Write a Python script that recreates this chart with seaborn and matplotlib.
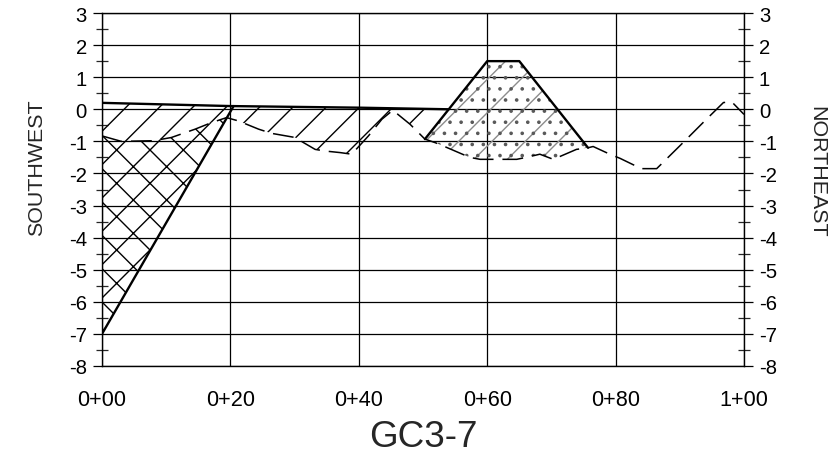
# CROSS SECTION GC3-7
# ----------------------------------------------------------------------------------------------------------------

import matplotlib
matplotlib.use('Agg')
import matplotlib.pyplot as plt
import seaborn as sns
import numpy as np


# DATA ------------------

station_ticks = [0, 20, 40, 60, 80, 100]
station_labels = ['0+00', '0+20', '0+40', '0+60', '0+80', '1+00']
elev_ticks = list(range(-8, 4))

# design ground line (thick, solid)
ground_x = [0, 20, 40, 54]
ground_y = [0.2, 0.1, 0.05, 0.0]

# excavation cut edge (thick, solid)
cut_x = [0, 20.5]
cut_y = [-7, 0.1]

# berm outline (thick, solid)
berm_x = [50.3, 60, 65, 75.7]
berm_y = [-0.93, 1.5, 1.5, -1.2]

# existing profile (dashed)
profile_x = [0, 3, 8, 10.8, 14.5, 17, 19.4, 21.2, 24.4, 26.4, 30.1, 31.4, 33.2, 34.7, 37.1, 38.9,
             41.5, 43.6, 45.3, 48, 50.3, 51.9, 53.7, 57.3, 58.9, 62.3, 64.6, 66.5, 68.2, 70.3,
             73.9, 75.7, 76.5, 79.1, 80.7, 84, 86.4, 90, 93.9, 96.8, 98.1, 100]
profile_y = [-0.83, -1.0, -0.98, -0.88, -0.62, -0.42, -0.26, -0.36, -0.62, -0.75, -0.88, -1.04,
             -1.25, -1.3, -1.35, -1.4, -0.83, -0.31, -0.03, -0.47, -0.93, -1.04, -1.19, -1.5,
             -1.56, -1.56, -1.56, -1.48, -1.4, -1.56, -1.25, -1.2, -1.16, -1.4, -1.53, -1.85,
             -1.85, -1.14, -0.36, 0.21, 0.23, -0.16]


# STYLE -----------------

DPI = 200  # large dpi => wide hatch spacing
sns.set_style('white')
plt.rcParams['font.family'] = ['Liberation Sans', 'DejaVu Sans']
plt.rcParams['axes.unicode_minus'] = False
plt.rcParams['lines.scale_dashes'] = False
plt.rcParams['hatch.linewidth'] = 0.5
plt.rcParams['axes.edgecolor'] = 'black'


# FIGURE ----------------

fig = plt.figure(figsize=(834 / DPI, 456 / DPI), dpi=DPI)
ax = fig.add_axes([102 / 834, 89 / 456, 642 / 834, 353 / 456])

px = np.array(profile_x)
py = np.array(profile_y)

# cross-hatched cut below the profile
m = px <= 19.4
ax.fill(np.r_[px[m], cut_x[0]], np.r_[py[m], cut_y[0]],
        facecolor='none', edgecolor='black', hatch='xx', lw=0)

# single-hatched fill between ground line and profile
m = px < berm_x[0]
ax.fill(np.r_[ground_x, berm_x[0], px[m][::-1]], np.r_[ground_y, berm_y[0], py[m][::-1]],
        facecolor='none', edgecolor='black', hatch='//', lw=0)

# berm fill (dots + light slashes)
m = (px > berm_x[0]) & (px < berm_x[-1])
bx = np.r_[berm_x, px[m][::-1]]
by = np.r_[berm_y, py[m][::-1]]
ax.fill(bx, by, facecolor='none', edgecolor='0.55', hatch='//', lw=0)
ax.fill(bx, by, facecolor='none', edgecolor='0.35', hatch='...', lw=0)

# lines
sns.lineplot(x=profile_x, y=profile_y, ax=ax, color='black', lw=0.55,
             linestyle=(0, (7.5, 3.2)), sort=False, errorbar=None)
for xs, ys in [(ground_x, ground_y), (cut_x, cut_y), (berm_x, berm_y)]:
    sns.lineplot(x=xs, y=ys, ax=ax, color='black', lw=0.85, sort=False, errorbar=None)

# axes, ticks and grid
ax.set_xlim(0, 100)
ax.set_ylim(-8, 3)
ax.set_xticks(station_ticks, station_labels)
ax.set_yticks(elev_ticks)
ax.set_yticks(np.arange(-7.5, 3, 1), minor=True)
ax.grid(True, which='major', color='black', lw=0.45)
ax.tick_params(axis='x', direction='out', length=5.8, width=0.45, pad=2.5,
               labelsize=7.8, colors='black')
ax.tick_params(axis='y', which='major', direction='out', length=3.2, width=0.45, pad=2.2,
               labelsize=7.3, left=True, right=True, labelleft=True, labelright=True,
               colors='black')
ax.tick_params(axis='y', which='minor', direction='inout', length=4.2, width=0.45,
               left=True, right=True)
for s in ax.spines.values():
    s.set_linewidth(0.5)
    s.set_color('black')

# labels
fig.text(37 / 834, 1 - 168 / 456, 'SOUTHWEST', rotation=90, ha='center', va='center', fontsize=7.7)
fig.text(817 / 834, 1 - 172 / 456, 'NORTHEAST', rotation=-90, ha='center', va='center', fontsize=7.7)
fig.text(423 / 834, 1 - 447 / 456, 'GC3-7', ha='center', va='baseline', fontsize=13.3)

fig.savefig('out.png', dpi=DPI)
